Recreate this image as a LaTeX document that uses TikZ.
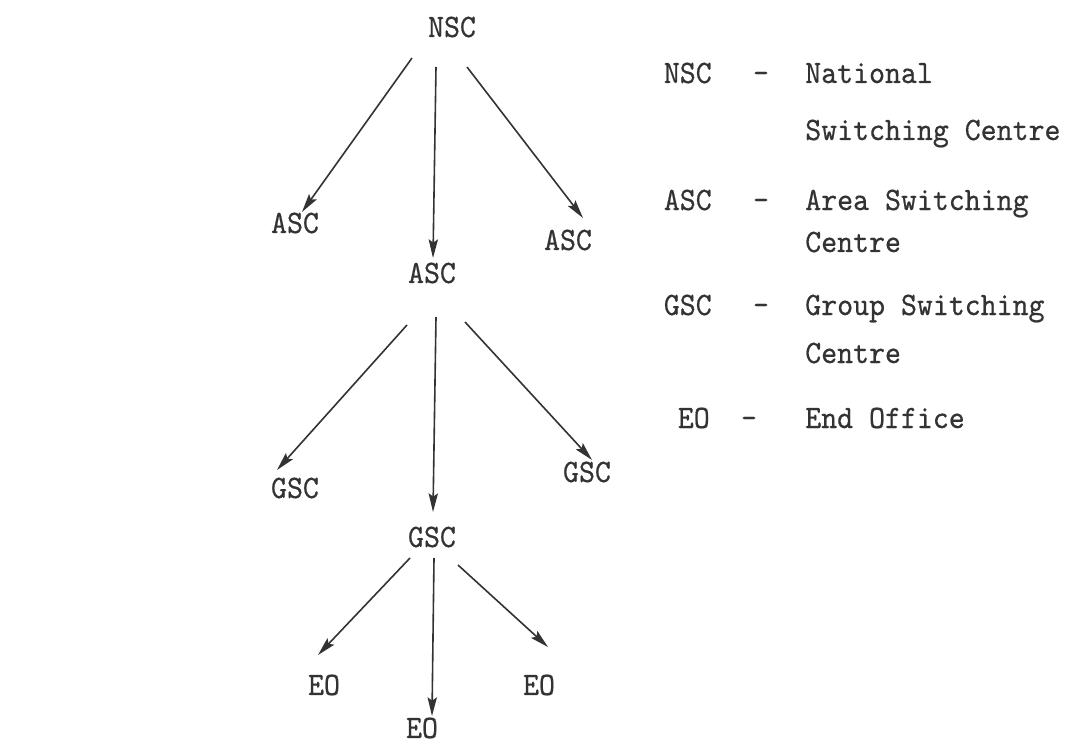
\documentclass[tikz,border=0pt]{standalone}
\usepackage{fontspec}
\setmonofont{lmmono10-regular.otf}[FakeStretch=0.93,FakeBold=0.5]
\usetikzlibrary{arrows.meta,calc}
\definecolor{ink}{HTML}{333333}
\tikzset{
  lbl/.style={inner sep=0pt,text=ink,font=\ttfamily\fontsize{24.5}{29}\selectfont},
  arr/.style={draw=ink,line width=1.2pt,-{Stealth[length=14pt,width=7pt,inset=2.5pt]}}
}
\begin{document}
\begin{tikzpicture}[x=0.75pt,y=-0.75pt]
\useasboundingbox[fill=white] (0,0) rectangle (1080,745);
% tree nodes
\node[lbl] (nsc)  at (452,27)  {NSC};
\node[lbl] (ascL) at (295,223) {ASC};
\node[lbl] (ascM) at (432,273) {ASC};
\node[lbl] (ascR) at (568,240) {ASC};
\node[lbl] (gscL) at (295,488) {GSC};
\node[lbl] (gscM) at (432,537) {GSC};
\node[lbl] (gscR) at (587,472) {GSC};
\node[lbl] (eoL)  at (324,685) {EO};
\node[lbl] (eoM)  at (422,728) {EO};
\node[lbl] (eoR)  at (539,685) {EO};
% connectors
\draw[arr] ($(nsc)+(-40,31)$) -- ($(ascL)+(7,-11)$);
\draw[arr] ($(nsc)+(-16,40)$) -- ($(ascM)+(1,-15)$);
\draw[arr] ($(nsc)+(15,40)$)  -- ($(ascR)+(15,-22)$);
\draw[arr] ($(ascM)+(-25,52)$) -- ($(gscL)+(-18,-18)$);
\draw[arr] ($(ascM)+(4,44)$)   -- ($(gscM)+(1,-25)$);
\draw[arr] ($(ascM)+(33,49)$)  -- ($(gscR)+(5,-12)$);
\draw[arr] ($(gscM)+(-22,21)$) -- ($(eoL)+(-6,-30)$);
\draw[arr] ($(gscM)+(2,21)$)   -- ($(eoM)+(10,-12)$);
\draw[arr] ($(gscM)+(26,28)$)  -- ($(eoR)+(9,-38)$);
% legend
\node[lbl,anchor=base east] (kNSC) at (712,83)  {NSC};
\node[lbl,anchor=base]      (dNSC) at (761,83)  {-};
\node[lbl,anchor=base west] (tNSC1) at (805,83)  {National};
\node[lbl,anchor=base west] (tNSC2) at (805,140) {Switching Centre};
\node[lbl,anchor=base east] (kASC) at (712,210) {ASC};
\node[lbl,anchor=base]      (dASC) at (761,210) {-};
\node[lbl,anchor=base west] (tASC1) at (805,210) {Area Switching};
\node[lbl,anchor=base west] (tASC2) at (805,252) {Centre};
\node[lbl,anchor=base east] (kGSC) at (712,315) {GSC};
\node[lbl,anchor=base]      (dGSC) at (761,315) {-};
\node[lbl,anchor=base west] (tGSC1) at (805,315) {Group Switching};
\node[lbl,anchor=base west] (tGSC2) at (805,363) {Centre};
\node[lbl,anchor=base east] (kEO) at (710,428) {EO};
\node[lbl,anchor=base]      (dEO) at (749,428) {-};
\node[lbl,anchor=base west] (tEO) at (805,428) {End Office};
\end{tikzpicture}
\end{document}
